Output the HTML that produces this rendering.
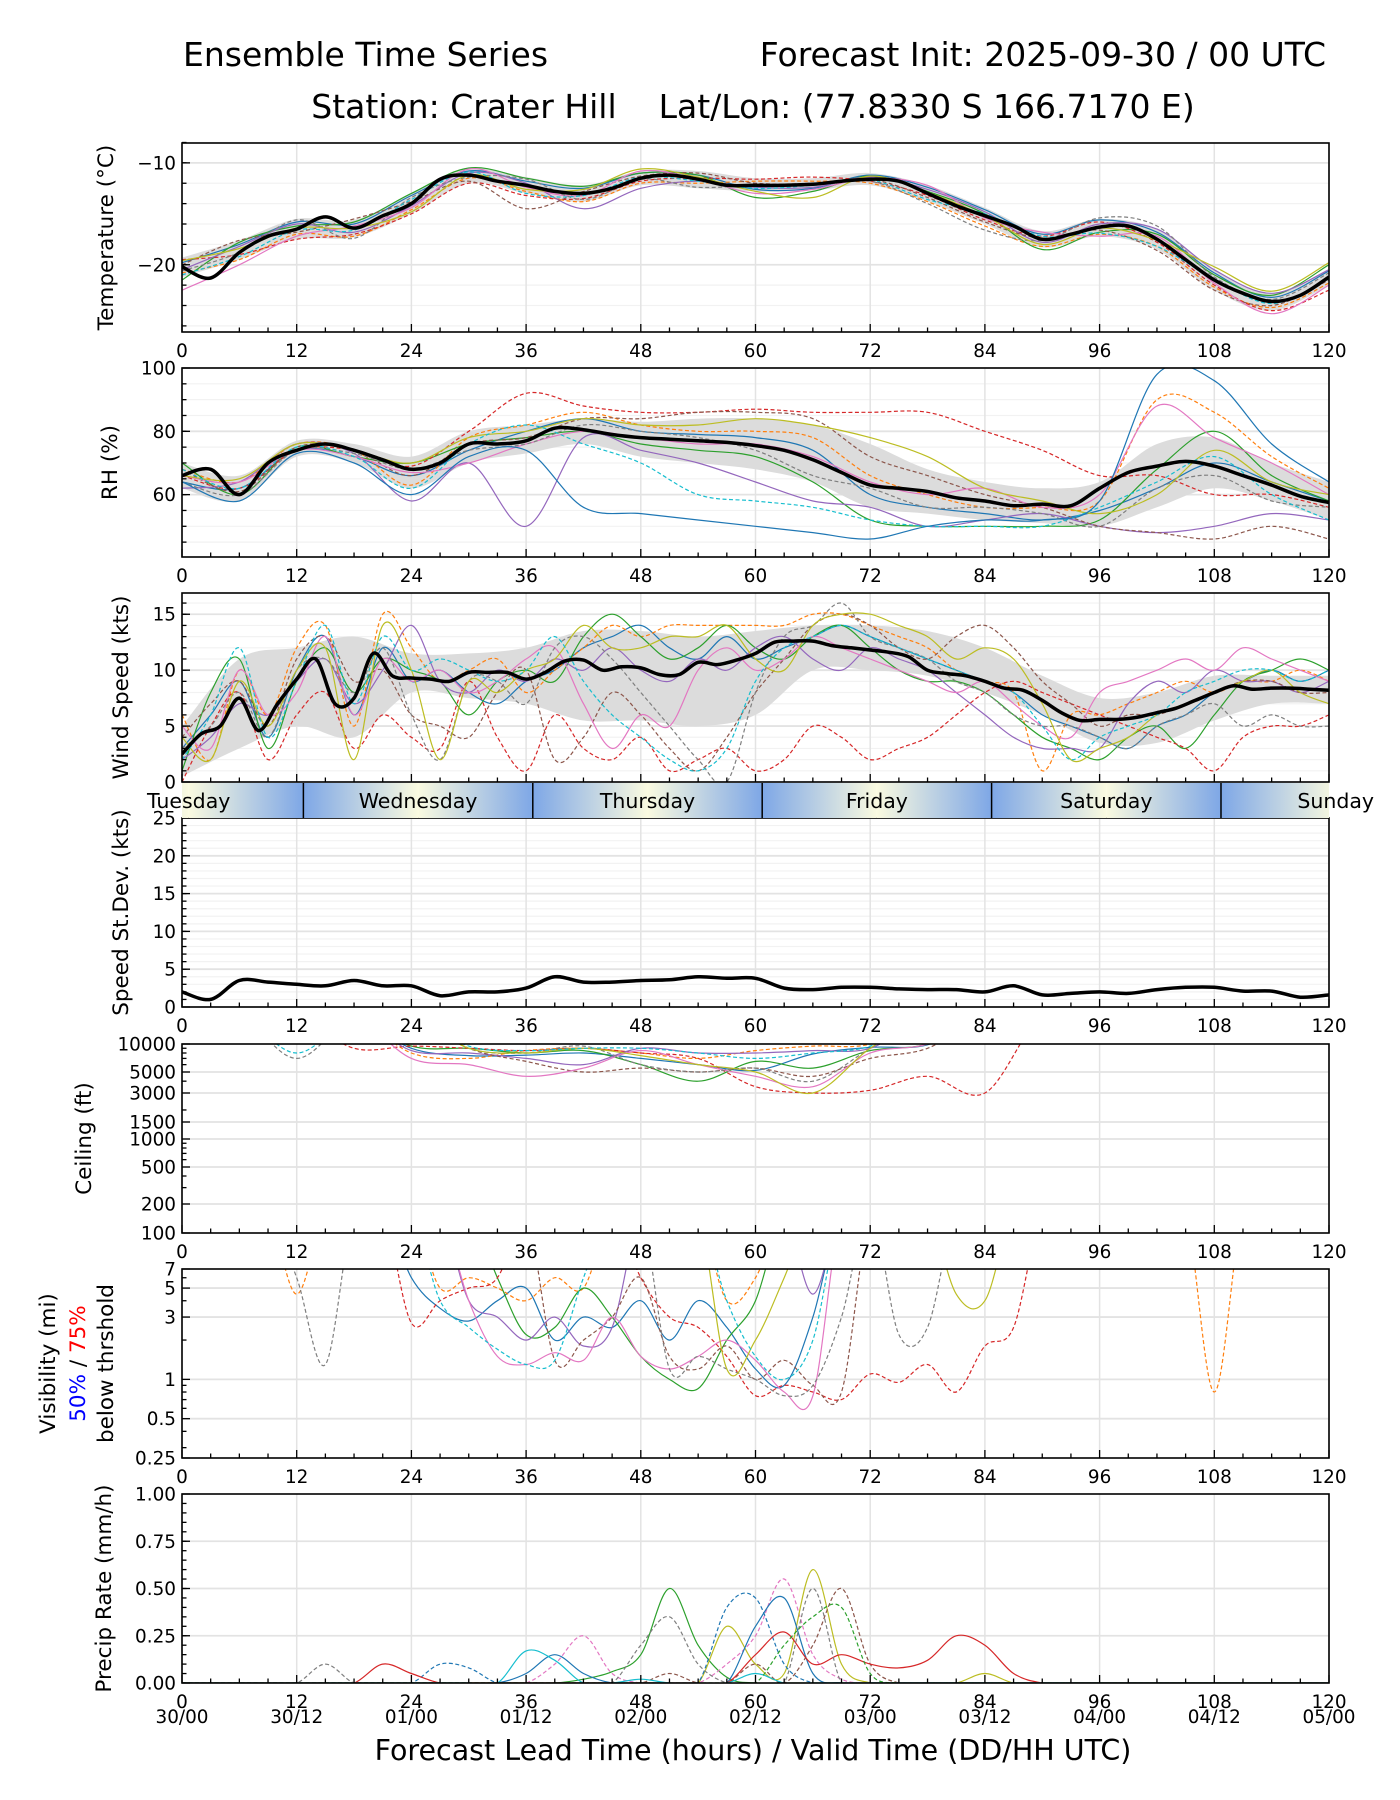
<!DOCTYPE html>
<html><head><meta charset="utf-8"><style>
html,body{margin:0;padding:0;background:#fff;}
svg{display:block;font-family:"DejaVu Sans","Liberation Sans",sans-serif;}
</style></head><body>
<svg id="chart" width="1400" height="1800" viewBox="0 0 1400 1800" xmlns="http://www.w3.org/2000/svg">
<rect width="1400" height="1800" fill="#fff"/>
<text x="183" y="66" font-size="33">Ensemble Time Series</text>
<text x="1326" y="66" font-size="33" text-anchor="end">Forecast Init: 2025-09-30 / 00 UTC</text>
<text x="753" y="118" font-size="33" text-anchor="middle" xml:space="preserve">Station: Crater Hill    Lat/Lon: (77.8330 S 166.7170 E)</text>
<g id="layer"></g>
</svg>
<script>
// ---------- data ----------
const hours6 = [0,6,12,18,24,30,36,42,48,54,60,66,72,78,84,90,96,102,108,114,120];
const hours3 = [0,3,6,9,12,15,18,21,24,27,30,33,36,39,42,45,48,51,54,57,60,63,66,69,72,75,78,81,84,87,90,93,96,99,102,105,108,111,114,117,120];
const hours2 = [0,2,4,6,8,10,12,14,16,18,20,22,24,26,28,30,32,34,36,38,40,42,44,46,48,50,52,54,56,58,60,62,64,66,68,70,72,74,76,78,80,82,84,86,88,90,92,94,96,98,100,102,104,106,108,110,112,114,116,118,120];
const xTicks = [0,12,24,36,48,60,72,84,96,108,120];
const validLabels = ["30/00","30/12","01/00","01/12","02/00","02/12","03/00","03/12","04/00","04/12","05/00"];
const dayNames = ["Tuesday","Wednesday","Thursday","Friday","Saturday","Sunday"];

const tempMean = [-20.2,-21.3,-18.8,-17.2,-16.5,-15.3,-16.4,-15.2,-14,-11.6,-11.2,-11.8,-12.2,-12.8,-13,-12.5,-11.5,-11.2,-11.6,-12.2,-12.2,-12.2,-12.1,-11.8,-11.6,-11.8,-13,-14.2,-15.2,-16.2,-17.5,-17,-16.3,-16.2,-17.5,-19.5,-21.5,-22.8,-23.6,-23,-21.2];
const tempLo = [-21.2,-19.5,-17.5,-17.3,-15,-12,-13,-13.8,-12.2,-12.5,-12.8,-12.7,-12.2,-13.8,-16,-18.3,-17.2,-18.5,-22.5,-24.5,-22];
const tempHi = [-19.3,-17.6,-15.5,-15.6,-13,-10.5,-11.4,-12.2,-10.8,-10.8,-11.5,-11.5,-11,-12.2,-14.4,-16.7,-15.5,-16.5,-20.5,-22.8,-20.4];
const tempMembers = [
[-19.8,-18,-15.8,-16,-13.2,-10.8,-11.8,-12.5,-11,-11.2,-12.6,-12.5,-11.2,-12.4,-14.6,-17,-15.6,-16.8,-20.8,-23.2,-20.6],
[-20.8,-19.5,-17,-17.2,-14.6,-11.5,-12.8,-13.8,-12,-12,-11.8,-11.8,-12,-13.8,-16.2,-18.2,-17,-18.2,-22.2,-24.2,-21.8],
[-21.5,-17.8,-16.2,-15.8,-13,-10.5,-11.5,-12.3,-11,-11.2,-13.4,-12.8,-11.3,-12.8,-15,-18.5,-16.8,-17,-21,-23,-20],
[-19.5,-19,-17.5,-17,-15,-12,-13.2,-13.5,-11.8,-11.5,-11.6,-11.4,-11.8,-13.2,-15.6,-17.2,-15.8,-17.8,-22,-24.5,-22.5],
[-20.5,-18.2,-16,-16.8,-14.2,-11,-12,-14.5,-12.5,-11.8,-12.4,-12.4,-11.4,-12.6,-14.8,-17.8,-16,-16.5,-20.5,-22.8,-20.5],
[-20,-17.6,-16.8,-15.5,-13.8,-11.8,-14.5,-12.8,-11.3,-11,-12,-12,-11.6,-13.4,-15.8,-17.4,-16.6,-18.6,-22.5,-24,-21.5],
[-22.5,-20,-17.2,-16.2,-14.4,-10.6,-12.4,-13.2,-10.8,-11.6,-13,-12.6,-11.5,-12.2,-15.4,-16.8,-17.2,-17.2,-21.8,-24.8,-22],
[-20.6,-18.8,-15.6,-17.4,-13.4,-11.4,-11.6,-13.6,-11.6,-12.4,-12.2,-12.2,-11.8,-14,-16.6,-17.6,-15.4,-16.2,-21.2,-23.4,-20.8],
[-19.6,-18.4,-16.4,-16.4,-14.8,-11.2,-12.6,-12.6,-10.6,-11.4,-12.8,-13.4,-11.3,-12.9,-15.2,-18,-16.4,-17.6,-20.2,-22.6,-19.8],
[-21,-19.2,-16.6,-16.6,-13.6,-10.9,-13,-13.2,-11.4,-11.8,-12.5,-12.2,-11.7,-13.6,-15,-17.2,-16.9,-18.2,-21.4,-23.8,-21.4]
];

const rhMean = [66,68,60,70,74,76,74,71,68,70,76,76,77,81,80.5,79,78,77.5,77,76.5,75.5,74,71,67,63,62,61,59,58,56.5,57,56.5,62,67,69,70.5,69,66,63,59.5,57.5];
const rhLo = [62,58,72,70,62,70,73,76,72,70,68,64,56,54,52,51,50,56,62,58,52];
const rhHi = [70,66,77,76,72,80,82,84,83,84,84,82,76,68,64,62,64,76,78,70,64];
const rhMembers = [
[64,62,74,72,66,74,80,84,80,79,78,74,60,56,54,52,55,62,70,64,58],
[68,64,76,74,63,78,82,86,82,80,80,78,66,60,56,56,58,90,86,72,62],
[70,60,75,72,70,76,78,80,76,74,72,64,52,50,50,50,52,68,80,66,58],
[66,62,74,74,69,80,92,88,86,86,87,86,86,86,80,74,66,66,60,60,56],
[62,64,76,73,58,70,50,78,74,70,64,58,56,50,52,54,50,48,50,54,52],
[68,61,75,74,66,76,78,84,84,86,86,84,72,66,60,56,50,48,46,50,46],
[66,64,74,72,67,70,76,80,78,76,76,72,64,60,62,56,60,88,78,70,60],
[64,60,74,73,68,74,76,82,80,78,74,66,62,56,56,54,50,62,66,58,56],
[66,65,76,74,70,78,80,84,82,82,84,82,78,72,62,58,54,60,74,64,60],
[68,62,75,72,62,76,82,76,70,60,58,56,52,50,50,50,56,64,72,60,52],
[64,58,73,70,60,72,74,56,54,52,50,48,46,50,52,52,58,98,96,76,64]
];

const windMean = [2.5,4.3,5.0,7.5,4.6,7.0,9.2,11.0,7.0,7.5,11.5,9.5,9.3,9.2,9.0,9.8,9.8,9.8,9.2,9.8,10.8,10.9,10.0,10.3,10.2,9.6,9.6,10.7,10.5,10.9,11.5,12.5,12.6,12.6,12.2,12.0,11.8,11.6,11.2,10.0,9.7,9.5,9.0,8.4,8.2,7.3,6.2,5.5,5.6,5.6,5.8,6.2,6.6,7.3,8.0,8.6,8.3,8.4,8.4,8.3,8.2];
const windLo = [0.5,3,5,4,8,7.5,7,5.5,5.5,5,6,10,10,9.5,8,6,3.5,3.5,5.5,7,7];
const windHi = [5,11,12,13,11.5,11.5,12,13.5,13.5,13,13.5,14,14,13.5,12,9.5,7.5,8,9.5,9.5,9.5];
const windMembers = [
[3,6,9,4,10,13,6,12,9,10,8,7,9,10,12,13,14,12,11,13,11,12,13,14,13,12,11,10,9,8,6,5,4,3,5,6,8,9,10,9,10],
[6,2,10,6,12,14,5,15,12,9,10,11,8,10,12,14,13,14,14,14,14,14,15,15,14,13,12,10,9,8,1,6,6,7,8,9,8,9,9,10,9],
[1,8,11,3,9,12,8,11,10,9,6,9,10,9,13,15,13,11,12,14,12,11,13,14,12,10,9,9,8,6,4,3,2,4,5,3,6,9,10,11,10],
[0,5,8,2,6,8,3,6,4,3,9,4,1,6,3,2,4,1,2,3,1,2,5,4,2,3,4,6,8,9,8,7,6,5,4,3,1,4,5,5,6],
[2,4,7,6,9,11,7,10,14,9,8,10,9,11,10,12,10,9,11,10,12,13,11,10,12,11,10,8,6,4,3,3,3,7,9,8,10,9,9,8,9],
[4,7,9,5,11,13,9,10,6,5,4,8,10,2,4,8,6,3,1,4,8,11,14,15,14,12,11,13,14,12,9,7,5,6,6,7,8,9,9,8,8],
[5,3,10,6,8,13,6,11,9,10,8,9,11,12,7,3,6,5,10,12,10,11,13,12,11,10,9,8,9,7,5,4,8,9,10,11,10,12,11,10,9],
[3,5,8,4,10,11,8,12,6,2,9,9,7,12,13,11,8,5,2,0,8,13,14,16,13,12,11,9,8,6,5,5,4,3,5,6,7,5,6,5,5],
[4,2,9,5,10,12,2,14,10,2,9,8,10,11,14,12,12,13,13,14,11,10,14,15,15,14,13,11,12,11,7,2,3,4,6,7,8,9,10,8,7],
[2,6,12,4,9,14,7,13,10,11,10,9,10,13,9,6,4,2,1,3,9,12,13,14,13,12,11,10,9,8,5,2,4,5,6,8,9,10,10,9,10]
];
const windStd = [2,1,3.5,3.3,3,2.8,3.5,2.8,2.8,1.5,2,2,2.5,4,3.3,3.3,3.5,3.6,4,3.8,3.8,2.5,2.3,2.6,2.6,2.4,2.3,2.3,2,2.8,1.6,1.8,2.0,1.8,2.3,2.6,2.6,2.1,2.1,1.3,1.6];

const ceilMembers = [
[20000,20000,20000,20000,9000,7500,7600,8000,7000,6000,5200,7800,9200,9800,20000,20000,20000,20000,20000,20000,20000],
[20000,20000,20000,20000,8000,7000,8500,9000,8000,7000,8500,9500,10000,20000,20000,20000,20000,20000,20000,20000,20000],
[20000,20000,20000,20000,9500,9000,8000,8500,6000,4000,6500,5500,8500,10000,20000,20000,20000,20000,20000,20000,20000],
[20000,20000,20000,9000,9500,9000,8500,9000,8000,7000,3500,3000,3200,4500,3000,20000,20000,20000,20000,20000,20000],
[20000,20000,20000,20000,8500,8000,7000,6000,9000,8000,8000,8500,9000,20000,20000,20000,20000,20000,20000,20000,20000],
[20000,20000,20000,20000,20000,9000,6500,5000,5500,5000,5500,4500,7000,9000,20000,20000,20000,20000,20000,20000,20000],
[20000,20000,20000,20000,7000,6000,4500,5500,8500,6000,4500,3500,8000,10000,20000,20000,20000,20000,20000,20000,20000],
[20000,20000,7000,20000,20000,9000,8000,9500,6000,5000,5500,4000,9000,20000,20000,20000,20000,20000,20000,20000,20000],
[20000,20000,20000,20000,20000,9000,8000,9000,7500,6000,5000,3000,9000,20000,20000,20000,20000,20000,20000,20000,20000],
[20000,20000,8000,20000,20000,9500,8500,9000,9000,8000,7000,8000,9500,20000,20000,20000,20000,20000,20000,20000,20000]
];

const visMembers = [
[20,20,20,20,20,20,20,20,6,3.5, 2.8,4,5,2,3,2.5,4,2,4,2.5, 1.2,0.9,3,20,20,20,20,20,20,20, 20,20,20,20,20,20,20,20,20,20,20],
[20,20,20,20,4.5,20,20,20,20,5, 6,5,4,6,5,20,20,20,20,4, 6,20,20,20,20,20,20,20,20,20, 20,20,20,20,20,20,0.8,20,20,20,20],
[20,20,20,20,20,20,20,20,20,20, 20,6,2.2,2.5,5,3,1.5,1,0.85,2, 4,20,20,20,20,20,20,20,20,20, 20,20,20,20,20,20,20,20,20,20,20],
[20,20,20,20,20,20,20,20,2.7,4, 5,6,20,20,20,20,6,3,2.5,1.5, 0.75,0.9,0.8,0.7,1.1,0.95,1.3,0.8,1.8,2.5, 20,20,20,20,20,20,20,20,20,20,20],
[20,20,20,20,20,20,20,20,20,20, 4,3,2,3,1.8,2.5,20,20,20,20, 20,20,4.5,20,20,20,20,20,20,20, 20,20,20,20,20,20,20,20,20,20,20],
[20,20,20,20,20,20,20,20,20,20, 20,20,20,1.4,2,3,6,1.5,1.2,1.8, 1.0,1.4,0.9,0.8,20,20,20,20,20,20, 20,20,20,20,20,20,20,20,20,20,20],
[20,20,20,20,20,20,20,20,20,20, 4,1.5,1.3,1.6,1.4,3,1.5,1.2,1.5,2, 1.4,0.8,0.75,20,20,20,20,20,20,20, 20,20,20,20,20,20,20,20,20,20,20],
[20,20,20,20,6,1.3,20,20,20,20, 20,20,20,20,20,20,20,1.2,1.5,1.2, 1.0,0.75,0.9,3,20,2.2,2.5,20,20,20, 20,20,20,20,20,20,20,20,20,20,20],
[20,20,20,20,20,20,20,20,20,20, 20,20,20,20,20,20,20,20,20,1.2, 2,6,20,20,20,20,20,4.5,4,20, 20,20,20,20,20,20,20,20,20,20,20],
[20,20,20,20,20,20,20,20,20,4, 2.5,1.7,1.3,1.4,6,20,20,20,20,4, 1.5,1.0,2,20,20,20,20,20,20,20, 20,20,20,20,20,20,20,20,20,20,20]
];

const precipMembers = [
[0,0,0,0,0,0,0,0,0,0, 0,0,0,0,0.02,0.06,0.15,0.5,0.2,0.03, 0,0,0,0,0,0,0,0,0,0, 0,0,0,0,0,0,0,0,0,0,0],
[0,0,0,0,0,0,0,0,0,0, 0,0,0,0.1,0.25,0.05,0,0,0,0.1, 0.25,0.55,0.15,0.02,0,0,0,0,0,0, 0,0,0,0,0,0,0,0,0,0,0],
[0,0,0,0,0,0,0,0,0,0, 0,0,0,0,0,0,0,0,0,0.3, 0.1,0.05,0.6,0.1,0,0,0,0,0.05,0, 0,0,0,0,0,0,0,0,0,0,0],
[0,0,0,0,0,0,0,0,0,0, 0,0,0,0,0,0,0,0.05,0,0, 0.1,0,0.2,0.5,0.1,0,0,0,0,0, 0,0,0,0,0,0,0,0,0,0,0],
[0,0,0,0,0,0,0,0,0,0, 0,0,0.05,0.15,0.05,0,0,0,0,0, 0.3,0.45,0.05,0,0,0,0,0,0,0, 0,0,0,0,0,0,0,0,0,0,0],
[0,0,0,0,0,0,0,0,0,0.1, 0.08,0,0,0,0,0,0,0,0,0.4, 0.45,0.1,0,0,0,0,0,0,0,0, 0,0,0,0,0,0,0,0,0,0,0],
[0,0,0,0,0,0,0,0.1,0.05,0, 0,0,0,0,0,0,0,0,0,0, 0.15,0.27,0.1,0.15,0.1,0.08,0.12,0.25,0.2,0.05, 0,0,0,0,0,0,0,0,0,0,0],
[0,0,0,0,0,0.1,0,0,0,0, 0,0,0,0,0,0,0.2,0.35,0.1,0, 0,0,0.5,0,0,0,0,0,0,0, 0,0,0,0,0,0,0,0,0,0,0],
[0,0,0,0,0,0,0,0,0,0, 0,0,0.17,0.12,0,0,0.02,0,0,0, 0.05,0,0,0,0,0,0,0,0,0, 0,0,0,0,0,0,0,0,0,0,0],
[0,0,0,0,0,0,0,0,0,0, 0,0,0,0,0,0,0,0,0,0, 0,0.2,0.35,0.4,0.05,0,0,0,0,0, 0,0,0,0,0,0,0,0,0,0,0]
];
const precipColorIdx = [2,6,8,5,0,0,3,7,9,2];

// ---------- layout ----------
const NS = "http://www.w3.org/2000/svg";
const layer = document.getElementById('layer');
const X0 = 182, X1 = 1329, PH = 189;
const FT = 18.4, FY = 21.5;
const colors = ["#1f77b4","#ff7f0e","#2ca02c","#d62728","#9467bd","#8c564b","#e377c2","#7f7f7f","#bcbd22","#17becf","#1f77b4"];
function xScale(h){ return X0 + h*(X1-X0)/120; }
function mk(tag, attrs, parent){
  const e = document.createElementNS(NS, tag);
  for (const k in attrs) e.setAttribute(k, attrs[k]);
  (parent||layer).appendChild(e); return e;
}
function smoothPath(pts){
  if (!pts.length) return "";
  let d = "M"+pts[0][0].toFixed(1)+","+pts[0][1].toFixed(1);
  for (let i=0;i<pts.length-1;i++){
    const p0=pts[Math.max(0,i-1)], p1=pts[i], p2=pts[i+1], p3=pts[Math.min(pts.length-1,i+2)];
    const c1x=p1[0]+(p2[0]-p0[0])/6, c1y=p1[1]+(p2[1]-p0[1])/6;
    const c2x=p2[0]-(p3[0]-p1[0])/6, c2y=p2[1]-(p3[1]-p1[1])/6;
    d += "C"+c1x.toFixed(1)+","+c1y.toFixed(1)+" "+c2x.toFixed(1)+","+c2y.toFixed(1)+" "+p2[0].toFixed(1)+","+p2[1].toFixed(1);
  }
  return d;
}
function linScale(top, lo, hi){ return v => top + PH - (v-lo)/(hi-lo)*PH; }
function pwLogScale(pairs){
  return v => {
    const lv = Math.log10(Math.max(v,1e-6));
    let a = pairs[0], b = pairs[1];
    for (let i=0;i<pairs.length-1;i++){ if (lv <= Math.log10(pairs[i+1][0]) || i===pairs.length-2){ a=pairs[i]; b=pairs[i+1]; break; } }
    const la=Math.log10(a[0]), lb=Math.log10(b[0]);
    return a[1] + (lv-la)/(lb-la)*(b[1]-a[1]);
  };
}

let clipId = 0;
function panel(cfg){
  const top = cfg.top, bot = top+PH, y = cfg.y;
  const g = mk('g', {});
  
  
  const cid = 'clip'+(clipId++);
  const cp = mk('clipPath', {id:cid}, g); mk('rect', {x:X0, y:top, width:X1-X0, height:PH}, cp);
  (cfg.minorGrid||[]).forEach(v => mk('line',{x1:X0,x2:X1,y1:y(v),y2:y(v),stroke:'#f2f2f2','stroke-width':1.2},g));
  (cfg.majorGrid||[]).forEach(v => mk('line',{x1:X0,x2:X1,y1:y(v),y2:y(v),stroke:'#e3e3e3','stroke-width':1.8},g));
  xTicks.forEach(h => mk('line',{x1:xScale(h),x2:xScale(h),y1:top,y2:bot,stroke:'#e3e3e3','stroke-width':1.5},g));
  const plot = mk('g', {'clip-path':'url(#'+cid+')'}, g);
  if (cfg.band){
    const up = cfg.band.hours.map((h,i)=>[xScale(h), y(cfg.band.hi[i])]);
    const dn = cfg.band.hours.map((h,i)=>[xScale(h), y(cfg.band.lo[i])]).reverse();
    const d = smoothPath(up) + smoothPath(dn).replace(/^M/,'L') + 'Z';
    const b = mk('path',{d:d,fill:'#dcdcdc',stroke:'none'},plot);
    
    
  }
  (cfg.members||[]).forEach((m,i) => {
    const pts = m.map((v,j)=>[xScale(cfg.mHours[j]), y(v)]);
    const ci = cfg.colorIdx ? cfg.colorIdx[i] : i;
    const p = mk('path',{d:smoothPath(pts),fill:'none',stroke:colors[ci%colors.length],'stroke-width':1.2,'stroke-dasharray': i%2 ? '4,2.5' : 'none'},plot);
    
    
  });
  if (cfg.mean){
    const pts = cfg.mean.map((v,j)=>[xScale(cfg.meanHours[j]), y(v)]);
    const p = mk('path',{d:smoothPath(pts),fill:'none',stroke:'#000','stroke-width':3.5,'stroke-linejoin':'round'},plot);
    
    
  }
  for (let h=0; h<=120; h+=3){
    const major = h%12===0;
    mk('line',{x1:xScale(h),x2:xScale(h),y1:bot,y2:bot-(major?8:4.5),stroke:'#000','stroke-width':1.3},g);
  }
  (cfg.minorTicks||[]).forEach(v => mk('line',{x1:X0,x2:X0+4.5,y1:y(v),y2:y(v),stroke:'#000','stroke-width':1.3},g));
  cfg.yTicks.forEach((v,i) => {
    mk('line',{x1:X0,x2:X0+8,y1:y(v),y2:y(v),stroke:'#000','stroke-width':1.3},g);
    const t = mk('text',{x:X0-6,y:y(v)+6.5,'font-size':FT,'text-anchor':'end'},g);
    t.textContent = cfg.yLabels[i];
    
    
  });
  mk('rect',{x:X0,y:top,width:X1-X0,height:PH,fill:'none',stroke:'#000','stroke-width':1.6},g);
  if (cfg.xLabels){
    xTicks.forEach(h => {
      const t = mk('text',{x:xScale(h),y:bot+25,'font-size':FT,'text-anchor':'middle'},g);
      t.textContent = String(h);
      
      
    });
  }
  if (cfg.yTitle){
    const cy = top+PH/2;
    const t = mk('text',{x:cfg.yTitleX,y:cy,'font-size':FY,'text-anchor':'middle',transform:'rotate(-90 '+cfg.yTitleX+' '+cy+')'},g);
    t.textContent = cfg.yTitle;
    
    
  }
  return g;
}
function range(a,b,s){ const r=[]; for(let v=a; v<=b+1e-9; v+=s) r.push(+v.toFixed(4)); return r; }

const yT = linScale(143, -26.6, -8.05);
panel({name:'temperature', top:143, y:yT, majorGrid:[-10,-20], minorGrid:range(-26,-8,2), minorTicks:range(-26,-8,2),
  yTicks:[-10,-20], yLabels:['\u221210','\u221220'], band:{hours:hours6, lo:tempLo, hi:tempHi},
  members:tempMembers, mHours:hours6, mean:tempMean, meanHours:hours3, xLabels:true, yTitle:'Temperature (\u00b0C)', yTitleX:113});
const yR = linScale(368, 40.3, 100);
panel({name:'rh', top:368, y:yR, majorGrid:[60,80,100], minorGrid:range(45,95,5), minorTicks:range(45,95,5),
  yTicks:[60,80,100], yLabels:['60','80','100'], band:{hours:hours6, lo:rhLo, hi:rhHi},
  members:rhMembers, mHours:hours6, mean:rhMean, meanHours:hours3, xLabels:true, yTitle:'RH (%)', yTitleX:117});
const yW = linScale(593, 0, 16.9);
panel({name:'wind-speed', top:593, y:yW, majorGrid:[0,5,10,15], minorGrid:range(1,16,1), minorTicks:range(1,16,1),
  yTicks:[0,5,10,15], yLabels:['0','5','10','15'], band:{hours:hours6, lo:windLo, hi:windHi},
  members:windMembers, mHours:hours3, mean:windMean, meanHours:hours2, xLabels:false, yTitle:'Wind Speed (kts)', yTitleX:128});
const yS = linScale(818, 0, 25);
panel({name:'speed-stdev', top:818, y:yS, majorGrid:[0,5,10,15,20,25], minorGrid:range(1,24,1), minorTicks:range(1,24,1),
  yTicks:[0,5,10,15,20,25], yLabels:['0','5','10','15','20','25'],
  mean:windStd, meanHours:hours3, xLabels:true, yTitle:'Speed St.Dev. (kts)', yTitleX:128});
const yC = pwLogScale([[100,1233],[200,1204],[500,1167],[1000,1139],[1500,1122],[3000,1093],[5000,1072],[10000,1044],[100000,950]]);
panel({name:'ceiling', top:1044, y:yC, majorGrid:[200,500,1000,1500,3000,5000], minorTicks:[300,400,600,700,800,900,2000,4000,6000,7000,8000,9000],
  yTicks:[100,200,500,1000,1500,3000,5000,10000], yLabels:['100','200','500','1000','1500','3000','5000','10000'],
  members:ceilMembers, mHours:hours6, xLabels:true, yTitle:'Ceiling (ft)', yTitleX:91});
const yV = v => 1458 - Math.log2(Math.max(v,0.01)/0.25)*(189/Math.log2(28));
panel({name:'visibility', top:1269, y:yV, majorGrid:[0.5,1,3,5], minorTicks:[0.3,0.4,0.6,0.7,0.8,0.9,2,4,6],
  yTicks:[0.25,0.5,1,3,5,7], yLabels:['0.25','0.5','1','3','5','7'],
  members:visMembers, mHours:hours3, xLabels:true});
const yP = linScale(1494, 0, 1);
panel({name:'precip-rate', top:1494, y:yP, majorGrid:[0.25,0.5,0.75], minorTicks:range(0.05,0.95,0.05),
  yTicks:[0,0.25,0.5,0.75,1], yLabels:['0.00','0.25','0.50','0.75','1.00'],
  members:precipMembers, colorIdx:precipColorIdx, mHours:hours3, xLabels:true, yTitle:'Precip Rate (mm/h)', yTitleX:111});

(function(){
  const cy = 1269+PH/2;
  const lines = [[55,'Visibility (mi)'],[113,'below thrshold']];
  lines.forEach(l => {
    const t = mk('text',{x:l[0],y:cy,'font-size':FY,'text-anchor':'middle',transform:'rotate(-90 '+l[0]+' '+cy+')'});
    t.textContent = l[1];
    
    
  });
  const t = mk('text',{x:85,y:cy,'font-size':FY,'text-anchor':'middle',transform:'rotate(-90 85 '+cy+')'});
  
  
  t.innerHTML = '<tspan fill="#0000ff">50%</tspan><tspan> / </tspan><tspan fill="#ff0000">75%</tspan>';
})();

(function(){
  const g = mk('g',{});
  
  
  const defs = mk('defs',{},g);
  const g1 = mk('linearGradient',{id:'dayA',x1:0,x2:1,y1:0,y2:0},defs);
  mk('stop',{offset:0,'stop-color':'#7ea7e6'},g1); mk('stop',{offset:1,'stop-color':'#fafae0'},g1);
  const g2 = mk('linearGradient',{id:'dayB',x1:0,x2:1,y1:0,y2:0},defs);
  mk('stop',{offset:0,'stop-color':'#fafae0'},g2); mk('stop',{offset:1,'stop-color':'#7ea7e6'},g2);
  const cp = mk('clipPath',{id:'dayclip'},g); mk('rect',{x:X0,y:783,width:X1-X0,height:35},cp);
  const inner = mk('g',{'clip-path':'url(#dayclip)'},g);
  for (let k=-1;k<6;k++){
    const b = 12.7 + 24*k;
    mk('rect',{x:xScale(b-12),y:783,width:xScale(b)-xScale(b-12),height:35,fill:'url(#dayB)'},inner);
    mk('rect',{x:xScale(b),y:783,width:xScale(b+12)-xScale(b),height:35,fill:'url(#dayA)'},inner);
    if (b>0 && b<120) mk('line',{x1:xScale(b),x2:xScale(b),y1:783,y2:818,stroke:'#000','stroke-width':1.5},g);
  }
  dayNames.forEach((n,i) => {
    const t = mk('text',{x:xScale(0.7+24*i),y:808,'font-size':20.5,'text-anchor':'middle'},g);
    t.textContent = n;
    
    
  });
})();

validLabels.forEach((s,i) => {
  const t = mk('text',{x:xScale(xTicks[i]),y:1723,'font-size':FT,'text-anchor':'middle'});
  t.textContent = s;
  
  
});
(function(){
  const t = mk('text',{x:753,y:1760,'font-size':28.5,'text-anchor':'middle'});
  t.textContent = 'Forecast Lead Time (hours) / Valid Time (DD/HH UTC)';
  
  
})();
</script>
</body></html>
